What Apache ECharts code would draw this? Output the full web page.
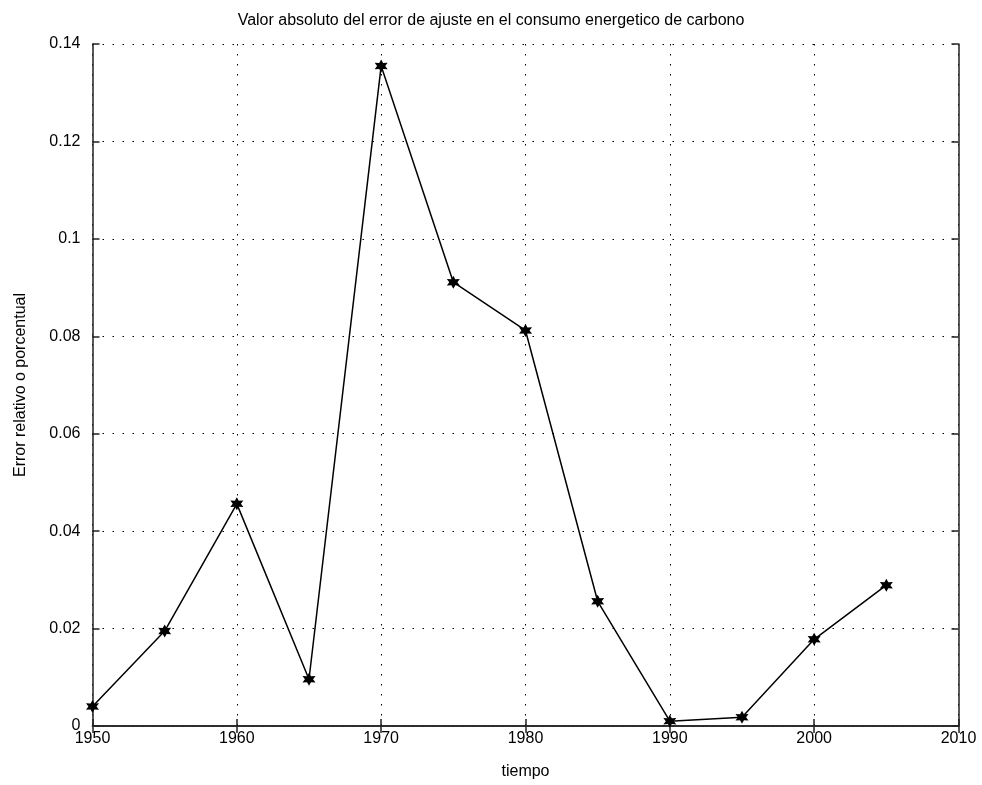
<!DOCTYPE html>
<html>
<head>
<meta charset="utf-8">
<script src="https://cdn.jsdelivr.net/npm/echarts@6/dist/echarts.min.js"></script>
<style>
html,body{margin:0;padding:0;background:#fff;}
#chart{width:982px;height:785px;}
</style>
</head>
<body>
<div id="chart"></div>
<script>
const years = [1950, 1955, 1960, 1965, 1970, 1975, 1980, 1985, 1990, 1995, 2000, 2005];
const errorValues = [0.0040, 0.0195, 0.0456, 0.0096, 0.1355, 0.0911, 0.0812, 0.0256, 0.0010, 0.0018, 0.0178, 0.0289];
const xTicks = [1950, 1960, 1970, 1980, 1990, 2000, 2010];
const yTicks = [0, 0.02, 0.04, 0.06, 0.08, 0.1, 0.12, 0.14];
const titleText = 'Valor absoluto del error de ajuste en el consumo energetico de carbono';
const xName = 'tiempo';
const yName = 'Error relativo o porcentual';

const FONT = 'Liberation Sans';
const chart = echarts.init(document.getElementById('chart'));
const dotted = { color: '#000', width: 1, type: [1.5, 8.5] };
const axisLineStyle = { color: '#222', width: 1.5 };
const fmtY = v => String(+v.toFixed(2));
const fmtX = v => String(Math.round(v));

chart.setOption({
  animation: false,
  backgroundColor: '#fff',
  title: {
    text: titleText, left: 'center', top: 8,
    textStyle: { fontFamily: FONT, fontSize: 16, fontWeight: 'normal', color: '#000' }
  },
  grid: { left: 92.5, right: 23.5, top: 44, bottom: 58 },
  xAxis: [{
    type: 'value', min: xTicks[0], max: xTicks[xTicks.length - 1], interval: 10,
    name: xName, nameLocation: 'middle', nameGap: 38,
    nameTextStyle: { fontFamily: FONT, fontSize: 16, color: '#000' },
    axisLine: { show: true, lineStyle: axisLineStyle },
    axisTick: { show: true, inside: true, length: 7, lineStyle: axisLineStyle },
    axisLabel: { fontFamily: FONT, fontSize: 16, color: '#000', margin: 5, formatter: fmtX },
    splitLine: { show: true, lineStyle: dotted }
  }, {
    type: 'value', position: 'top', min: xTicks[0], max: xTicks[xTicks.length - 1], interval: 10,
    axisLine: { show: true, lineStyle: axisLineStyle },
    axisTick: { show: true, inside: true, length: 7, lineStyle: axisLineStyle },
    axisLabel: { show: false }, splitLine: { show: false }
  }],
  yAxis: [{
    type: 'value', min: yTicks[0], max: yTicks[yTicks.length - 1], interval: 0.02,
    name: yName, nameLocation: 'middle', nameGap: 64,
    nameTextStyle: { fontFamily: FONT, fontSize: 16, color: '#000' },
    axisLine: { show: true, lineStyle: axisLineStyle },
    axisTick: { show: true, inside: true, length: 7, lineStyle: axisLineStyle },
    axisLabel: { fontFamily: FONT, fontSize: 16, color: '#000', margin: 12, formatter: fmtY },
    splitLine: { show: true, lineStyle: dotted }
  }, {
    type: 'value', position: 'right', min: yTicks[0], max: yTicks[yTicks.length - 1], interval: 0.02,
    axisLine: { show: true, lineStyle: axisLineStyle },
    axisTick: { show: true, inside: true, length: 7, lineStyle: axisLineStyle },
    axisLabel: { show: false }, splitLine: { show: false }
  }],
  series: [{
    type: 'line',
    data: years.map((y, i) => [y, errorValues[i]]),
    xAxisIndex: 0, yAxisIndex: 0,
    symbol: 'path://M50,0 L63,27 L93,25 L77,50 L93,75 L63,73 L50,100 L37,73 L7,75 L23,50 L7,25 L37,27 Z',
    symbolSize: 13,
    itemStyle: { color: '#000' },
    lineStyle: { color: '#000', width: 1.5 }
  }]
});
</script>
</body>
</html>
